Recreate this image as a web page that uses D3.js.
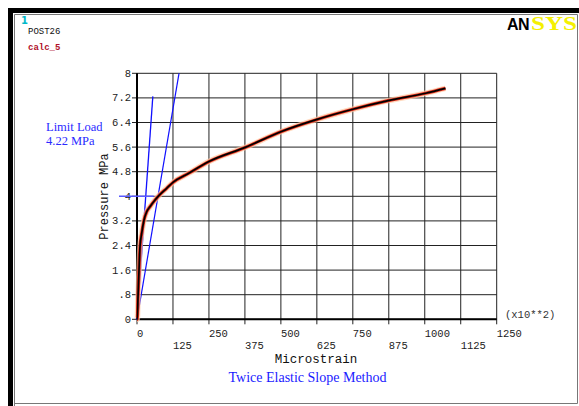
<!DOCTYPE html>
<html><head><meta charset="utf-8">
<script src="https://cdn.jsdelivr.net/npm/d3@7"></script>
<style>html,body{margin:0;padding:0;background:#fff;}svg{display:block;}</style>
</head><body>
<script>
// ---- data ----
const strain   = [0, 1, 3.5, 7, 10.4, 16.4, 24.4, 33.8, 45, 62.7, 77.6, 103, 126, 180, 250, 376, 500, 626, 750, 873, 1003, 1072];
const pressure = [0, 0, 0.73, 1.6, 2.36, 2.8, 3.23, 3.5, 3.66, 3.88, 4.04, 4.26, 4.46, 4.75, 5.13, 5.59, 6.1, 6.5, 6.83, 7.11, 7.35, 7.51];
const elasticLineX = [0, 55];   const elasticLineY = [0, 7.25];
const tesLineX = [0, 146];      const tesLineY = [0, 8];
const limitLoadY = 4.0;         const limitLoadXEnd = 58;
const xTicks = [0, 125, 250, 375, 500, 625, 750, 875, 1000, 1125, 1250];
const xTickLabels = ["0", "125", "250", "375", "500", "625", "750", "875", "1000", "1125", "1250"];
const yTicks = [0, 0.8, 1.6, 2.4, 3.2, 4, 4.8, 5.6, 6.4, 7.2, 8];
const yTickLabels = ["0", ".8", "1.6", "2.4", "3.2", "4", "4.8", "5.6", "6.4", "7.2", "8"];
const xTitle = "Microstrain", yTitle = "Pressure MPa", chartTitle = "Twice Elastic Slope Method";
const xMultiplier = "(x10**2)";
const annotation = ["Limit Load", "4.22 MPa"];

const W = 579, H = 406;
const svg = d3.select("body").append("svg").attr("width", W).attr("height", H);
svg.append("rect").attr("width", W).attr("height", H).attr("fill", "#fff");

// frame
svg.append("rect").attr("x", 8).attr("y", 8).attr("width", W - 8).attr("height", 5).attr("fill", "#000");
svg.append("rect").attr("x", 8).attr("y", 8).attr("width", 5).attr("height", H - 8).attr("fill", "#000");
svg.append("path").attr("d", `M14.5,${H} V14.5 H577.5 V403.5 H14.5`).attr("fill", "none").attr("stroke", "#777").attr("stroke-width", 1);

// header texts
svg.append("text").attr("x", 21).attr("y", 24).attr("font-family", "DejaVu Sans").attr("font-weight", "bold")
  .attr("font-size", 10).attr("fill", "#00b8c8").text("1");
svg.append("text").attr("x", 28).attr("y", 34).attr("font-family", "Liberation Mono").attr("font-size", 9)
  .attr("fill", "#111").text("POST26");
svg.append("text").attr("x", 28).attr("y", 50).attr("font-family", "Liberation Mono").attr("font-size", 9)
  .attr("font-weight", "bold").attr("fill", "#b0102a").text("calc_5");
// ANSYS logo
svg.append("text").attr("x", 507).attr("y", 30).attr("font-family", "Liberation Sans").attr("font-weight", "bold")
  .attr("font-size", 16).attr("letter-spacing", -0.5).attr("fill", "#000").text("AN");
svg.append("text").attr("x", 531).attr("y", 30).attr("font-family", "Liberation Serif").attr("font-weight", "bold")
  .attr("font-size", 19).attr("textLength", 46).attr("lengthAdjust", "spacingAndGlyphs").attr("fill", "#f4f000").text("SYS");

// scales
const x = d3.scaleLinear().domain([0, 1250]).range([137, 496.7]);
const y = d3.scaleLinear().domain([0, 8]).range([319.3, 73.3]);

// grid
const g = svg.append("g");
g.selectAll(".vg").data(xTicks).join("line")
  .attr("x1", d => x(d)).attr("x2", d => x(d)).attr("y1", y(8)).attr("y2", y(0) + 5)
  .attr("stroke", "#222").attr("stroke-width", 1);
g.selectAll(".hg").data(yTicks).join("line")
  .attr("x1", x(0) - 5).attr("x2", x(1250)).attr("y1", d => y(d)).attr("y2", d => y(d))
  .attr("stroke", "#222").attr("stroke-width", 1);
// axes
svg.append("line").attr("x1", x(0)).attr("x2", x(1250)).attr("y1", y(0)).attr("y2", y(0)).attr("stroke", "#000").attr("stroke-width", 2);
svg.append("line").attr("x1", x(0)).attr("x2", x(0)).attr("y1", y(0)).attr("y2", y(8)).attr("stroke", "#000").attr("stroke-width", 2);

// tick labels
const monoFont = "Liberation Mono";
svg.selectAll(".xl").data(xTicks).join("text")
  .attr("x", d => x(d)).attr("y", (d, i) => i % 2 === 0 ? 336.5 : 349)
  .attr("font-family", monoFont).attr("font-size", 10.5).attr("fill", "#222")
  .text((d, i) => xTickLabels[i]);
svg.selectAll(".yl").data(yTicks).join("text")
  .attr("x", x(0) - 6).attr("y", d => y(d) + 3.5).attr("text-anchor", "end")
  .attr("font-family", monoFont).attr("font-size", 10.5).attr("fill", "#222")
  .text((d, i) => yTickLabels[i]);
svg.append("text").attr("x", 505).attr("y", 317.5).attr("font-family", monoFont).attr("font-size", 10.5)
  .attr("fill", "#333").text(xMultiplier);

// axis titles
svg.append("text").attr("x", 316).attr("y", 363).attr("text-anchor", "middle")
  .attr("font-family", monoFont).attr("font-size", 12.5).attr("fill", "#111").text(xTitle);
svg.append("text").attr("transform", "translate(107.5,196.5) rotate(-90)").attr("text-anchor", "middle")
  .attr("font-family", monoFont).attr("font-size", 12).attr("fill", "#111").text(yTitle);
svg.append("text").attr("x", 307.5).attr("y", 382).attr("text-anchor", "middle")
  .attr("font-family", "Liberation Serif").attr("font-size", 14).attr("fill", "#1a1aff").text(chartTitle);

// annotation
svg.selectAll(".ann").data(annotation).join("text")
  .attr("x", 46).attr("y", (d, i) => 131 + i * 14)
  .attr("font-family", "Liberation Serif").attr("font-size", 12.5).attr("fill", "#2a2aff").text(d => d);

// blue construction lines
const line = d3.line().x(d => x(d[0])).y(d => y(d[1]));
svg.append("path").attr("d", line(d3.zip(elasticLineX, elasticLineY)))
  .attr("fill", "none").attr("stroke", "#1010ff").attr("stroke-width", 1.3);
svg.append("path").attr("d", line(d3.zip(tesLineX, tesLineY)))
  .attr("fill", "none").attr("stroke", "#1010ff").attr("stroke-width", 1.2);
svg.append("line").attr("x1", 119).attr("x2", x(limitLoadXEnd)).attr("y1", y(limitLoadY)).attr("y2", y(limitLoadY))
  .attr("stroke", "#5a5aff").attr("stroke-width", 1.5);

// response curve
const pts = d3.zip(strain, pressure);
const curve = d3.line().x(d => x(d[0])).y(d => y(d[1])).curve(d3.curveMonotoneX);
svg.append("path").attr("d", curve(pts)).attr("fill", "none").attr("stroke", "#ffc8a0").attr("stroke-width", 5.5).attr("opacity", 0.7);
svg.append("path").attr("d", curve(pts)).attr("fill", "none").attr("stroke", "#e02818").attr("stroke-width", 3.2);
svg.append("path").attr("d", curve(pts)).attr("fill", "none").attr("stroke", "#000").attr("stroke-width", 1.7);
</script>
</body></html>
